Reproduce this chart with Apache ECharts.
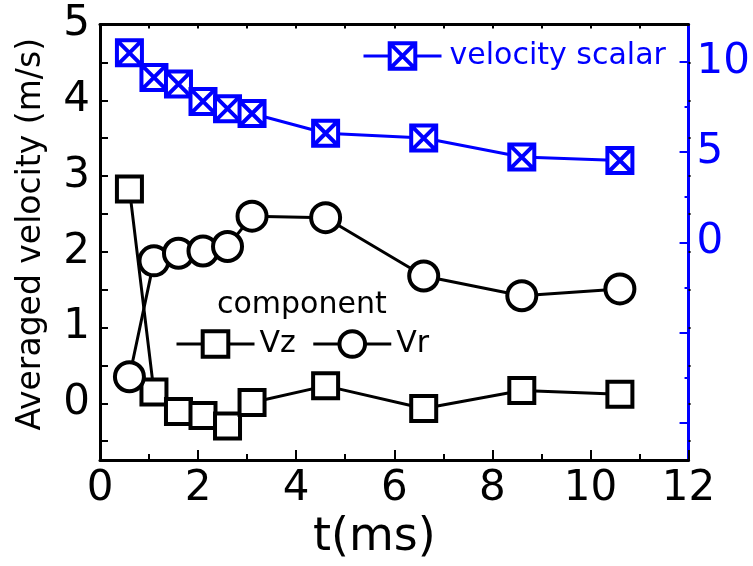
<!DOCTYPE html>
<html>
<head>
<meta charset="utf-8">
<script src="https://cdn.jsdelivr.net/npm/echarts@6/dist/echarts.min.js"></script>
<style>
html,body{margin:0;padding:0;background:#fff;}
#chart{width:753px;height:566px;}
</style>
</head>
<body>
<div id="chart"></div>
<script>
// ---- data ----
const tValues      = [0.6, 1.1, 1.6, 2.1, 2.6, 3.1, 4.6, 6.6, 8.6, 10.6];
const vzValues     = [2.83, 0.15, -0.11, -0.16, -0.30, 0.01, 0.23, -0.07, 0.17, 0.12];
const vrValues     = [0.35, 1.88, 1.98, 2.01, 2.07, 2.47, 2.45, 1.68, 1.42, 1.51];
const scalarValues = [10.49, 9.13, 8.76, 7.80, 7.40, 7.13, 6.04, 5.77, 4.72, 4.53];

const seriesNames  = ['Vz', 'Vr', 'velocity scalar'];
const legendTitle  = 'component';
const xTitle       = 't(ms)';
const yTitle       = 'Averaged velocity (m/s)';

const xLabels      = [0, 2, 4, 6, 8, 10, 12];
const xMinorTicks  = [1, 3, 5, 7, 9, 11];
const xTopTicks    = [1, 2, 3, 4, 5, 6, 7, 8, 9, 10, 11];
const leftLabels   = [0, 1, 2, 3, 4, 5];
const leftTicks    = [-0.5, 0, 0.5, 1, 1.5, 2, 2.5, 3, 3.5, 4, 4.5];
const rightLabels  = [0, 5, 10];
const rightMajor   = [-10, -5, 0, 5, 10];
const rightMinor   = [-7.5, -2.5, 2.5, 7.5];

const xRange     = [0, 12];
const leftRange  = [-0.75, 5];
const rightRange = [-12.06, 12.06];

// ---- chart ----
const FONT = 'DejaVu Sans';
const BLUE = '#0000ff';
const pairs = (ys) => tValues.map((t, i) => [t, ys[i]]);
const crossBox = 'path://M0,0L20,0L20,20L0,20Z M0,0L20,20 M20,0L0,20';

const chart = echarts.init(document.getElementById('chart'), null, {renderer: 'canvas'});
const option = {
  animation: false,
  backgroundColor: '#ffffff',
  grid: {left: 100, right: 62, top: 24.5, bottom: 98.5, containLabel: false},
  xAxis: [
    {
      type: 'value', min: xRange[0], max: xRange[1], position: 'bottom',
      axisLine: {show: true, onZero: false, lineStyle: {color: '#000', width: 3}},
      axisTick: {show: true, inside: true, length: 10, customValues: xLabels, lineStyle: {color: '#000', width: 2}},
      axisLabel: {show: true, customValues: xLabels, fontSize: 42, fontFamily: FONT, color: '#000', margin: 8},
      splitLine: {show: false},
      name: xTitle, nameLocation: 'middle', nameGap: 34,
      nameTextStyle: {fontSize: 46, fontFamily: FONT, color: '#000', padding: [0, 40, 0, 0]}
    },
    {
      type: 'value', min: xRange[0], max: xRange[1], position: 'bottom',
      axisLine: {show: false, onZero: false},
      axisTick: {show: true, inside: true, length: 6, customValues: xMinorTicks, lineStyle: {color: '#000', width: 2}},
      axisLabel: {show: false}, splitLine: {show: false}
    },
    {
      type: 'value', min: xRange[0], max: xRange[1], position: 'top',
      axisLine: {show: true, onZero: false, lineStyle: {color: '#000', width: 3}},
      axisTick: {show: true, inside: true, length: 4, customValues: xTopTicks, lineStyle: {color: '#000', width: 2}},
      axisLabel: {show: false}, splitLine: {show: false}
    }
  ],
  yAxis: [
    {
      type: 'value', min: leftRange[0], max: leftRange[1], position: 'left',
      axisLine: {show: true, onZero: false, lineStyle: {color: '#000', width: 3}},
      axisTick: {show: true, inside: true, length: 8, customValues: leftTicks, lineStyle: {color: '#000', width: 2}},
      axisLabel: {show: true, customValues: leftLabels, fontSize: 42, fontFamily: FONT, color: '#000', margin: 10},
      splitLine: {show: false},
      name: yTitle, nameLocation: 'middle', nameGap: 52, nameRotate: 90,
      nameTextStyle: {fontSize: 33, fontFamily: FONT, color: '#000', padding: [0, 0, 0, 16]}
    },
    {
      type: 'value', min: rightRange[0], max: rightRange[1], position: 'right',
      axisLine: {show: true, onZero: false, lineStyle: {color: BLUE, width: 3}},
      axisTick: {show: true, inside: true, length: 9, customValues: rightMajor, lineStyle: {color: BLUE, width: 2}},
      axisLabel: {show: true, customValues: rightLabels, fontSize: 42, fontFamily: FONT, color: BLUE, margin: 8},
      splitLine: {show: false}
    },
    {
      type: 'value', min: rightRange[0], max: rightRange[1], position: 'right',
      axisLine: {show: false, onZero: false},
      axisTick: {show: true, inside: true, length: 4, customValues: rightMinor, lineStyle: {color: BLUE, width: 2}},
      axisLabel: {show: false}, splitLine: {show: false}
    },
    {
      type: 'value', min: leftRange[0], max: leftRange[1], position: 'right',
      axisLine: {show: false, onZero: false},
      axisTick: {show: true, inside: false, length: 2, customValues: leftTicks, lineStyle: {color: '#000', width: 2}},
      axisLabel: {show: false}, splitLine: {show: false}
    }
  ],
  legend: [
    {
      data: [seriesNames[2]], left: 362, top: 41, padding: 0, itemWidth: 78, itemHeight: 32,
      itemStyle: {borderWidth: 4}, lineStyle: {width: 3},
      textStyle: {fontSize: 30, fontFamily: FONT, color: BLUE, padding: [0, 0, 0, 3]}
    },
    {
      data: [seriesNames[0], seriesNames[1]], left: 175, top: 329, padding: 0, itemWidth: 78, itemHeight: 32, itemGap: 16,
      itemStyle: {borderWidth: 4}, lineStyle: {width: 3},
      textStyle: {fontSize: 30, fontFamily: FONT, color: '#000'}
    }
  ],
  graphic: [
    {type: 'text', left: 217, top: 290, style: {text: legendTitle, font: '30px "DejaVu Sans"', fill: '#000'}}
  ],
  series: [
    {
      name: seriesNames[0], type: 'line', xAxisIndex: 0, yAxisIndex: 0, data: pairs(vzValues),
      symbol: 'rect', symbolSize: 25,
      itemStyle: {color: '#fff', borderColor: '#000', borderWidth: 4},
      lineStyle: {color: '#000', width: 3}
    },
    {
      name: seriesNames[1], type: 'line', xAxisIndex: 0, yAxisIndex: 0, data: pairs(vrValues),
      symbol: 'circle', symbolSize: 29,
      itemStyle: {color: '#fff', borderColor: '#000', borderWidth: 4},
      lineStyle: {color: '#000', width: 3}
    },
    {
      name: seriesNames[2], type: 'line', xAxisIndex: 0, yAxisIndex: 1, data: pairs(scalarValues),
      symbol: crossBox, symbolSize: 25,
      itemStyle: {color: '#fff', borderColor: BLUE, borderWidth: 4},
      lineStyle: {color: BLUE, width: 3}
    }
  ]
};
chart.setOption(option);
</script>
</body>
</html>
